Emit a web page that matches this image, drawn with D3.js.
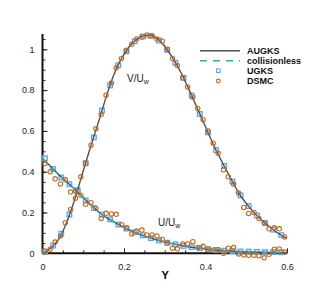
<!DOCTYPE html>
<html>
<head>
<meta charset="utf-8">
<script src="https://d3js.org/d3.v7.min.js"></script>
<style>
  body { margin: 0; background: #fff; }
  text { font-family: "Liberation Sans", Arial, sans-serif; }
</style>
</head>
<body>
<script>
// AUGKS solution, sampled every 0.02 in Y
var lineY = [0, 0.02, 0.04, 0.06, 0.08, 0.10, 0.12, 0.14, 0.16, 0.18, 0.20, 0.22, 0.24, 0.26, 0.28, 0.30,
             0.32, 0.34, 0.36, 0.38, 0.40, 0.42, 0.44, 0.46, 0.48, 0.50, 0.52, 0.54, 0.56, 0.58, 0.60];
var augksV = [0, 0.025, 0.07, 0.155, 0.27, 0.405, 0.535, 0.66, 0.79, 0.90, 0.975, 1.03, 1.06, 1.07, 1.055, 1.015,
              0.955, 0.885, 0.80, 0.71, 0.62, 0.53, 0.45, 0.375, 0.30, 0.245, 0.197, 0.158, 0.125, 0.096, 0.072];
var augksU = [0.465, 0.425, 0.385, 0.35, 0.312, 0.273, 0.234, 0.199, 0.171, 0.148, 0.127, 0.108, 0.092, 0.078, 0.066, 0.055,
              0.046, 0.038, 0.031, 0.026, 0.021, 0.017, 0.014, 0.011, 0.009, 0.007, 0.006, 0.005, 0.004, 0.003, 0.003];
// collisionless U (lies almost on top of AUGKS U)
var freeU = [0.462, 0.423, 0.384, 0.348, 0.311, 0.272, 0.234, 0.2, 0.172, 0.149, 0.128, 0.109, 0.093, 0.079, 0.067, 0.056,
             0.047, 0.039, 0.032, 0.027, 0.022, 0.018, 0.015, 0.012, 0.01, 0.008, 0.007, 0.006, 0.005, 0.004, 0.004];

// UGKS
var ugksY = [0.006, 0.026, 0.046, 0.066, 0.086, 0.106, 0.126, 0.146, 0.166, 0.186, 0.206, 0.226, 0.246, 0.266, 0.286,
             0.306, 0.326, 0.346, 0.366, 0.386, 0.406, 0.426, 0.446, 0.466, 0.486, 0.506, 0.526, 0.546, 0.566, 0.586];
var ugksV = [0.008, 0.038, 0.096, 0.19, 0.31, 0.442, 0.568, 0.70, 0.823, 0.922, 0.99, 1.039, 1.063, 1.066, 1.043,
             0.997, 0.934, 0.86, 0.773, 0.683, 0.593, 0.506, 0.428, 0.352, 0.284, 0.231, 0.185, 0.148, 0.116, 0.089];
var ugksU = [0.466, 0.413, 0.372, 0.339, 0.302, 0.259, 0.222, 0.19, 0.166, 0.141, 0.121, 0.103, 0.088, 0.074, 0.063,
             0.052, 0.044, 0.036, 0.03, 0.025, 0.02, 0.016, 0.013, 0.011, 0.009, 0.008, 0.007, 0.006, 0.006, 0.005];

// DSMC
var dsmcY = [0.006, 0.019, 0.031, 0.044, 0.056, 0.069, 0.081, 0.094, 0.106, 0.119, 0.131, 0.144, 0.156, 0.169, 0.181, 0.194,
             0.206, 0.219, 0.231, 0.244, 0.256, 0.269, 0.281, 0.294, 0.306, 0.319, 0.331, 0.344, 0.356, 0.369, 0.381, 0.394,
             0.406, 0.419, 0.431, 0.444, 0.456, 0.469, 0.481, 0.494, 0.506, 0.519, 0.531, 0.544, 0.556, 0.569, 0.581, 0.594];
var dsmcV = [0.01, 0.02, 0.055, 0.085, 0.15, 0.215, 0.27, 0.375, 0.44, 0.53, 0.61, 0.68, 0.775, 0.835, 0.91, 0.955,
             0.995, 1.025, 1.05, 1.06, 1.07, 1.065, 1.05, 1.04, 1.0, 0.955, 0.92, 0.86, 0.815, 0.765, 0.71, 0.655,
             0.60, 0.54, 0.49, 0.41, 0.375, 0.34, 0.295, 0.225, 0.195, 0.2, 0.17, 0.15, 0.12, 0.125, 0.12, 0.08];
var dsmcU = [0.44, 0.40, 0.365, 0.34, 0.36, 0.30, 0.305, 0.285, 0.24, 0.248, 0.22, 0.171, 0.196, 0.193, 0.191, 0.14,
             0.125, 0.095, 0.109, 0.114, 0.09, 0.09, 0.085, 0.068, 0.05, 0.025, 0.022, 0.046, 0.046, 0.057, 0.028, 0.034,
             0.021, 0.016, 0.018, 0.0, 0.025, 0.028, -0.003, -0.008, -0.01, -0.01, -0.012, -0.022, -0.005, 0.02, 0.021, 0.006];

var xTicks = [0, 0.2, 0.4, 0.6];
var yTicks = [0, 0.2, 0.4, 0.6, 0.8, 1];
var legendNames = ["AUGKS", "collisionless", "UGKS", "DSMC"];

var width = 327, height = 291;
var cGray = "#505050", cTeal = "#1fb5b5", cBlue = "#55a8f0", cOrange = "#c46a1c";

var svg = d3.select("body").append("svg")
  .attr("width", width)
  .attr("height", height);

var x = d3.scaleLinear().domain([0, 0.6]).range([42.5, 287]);
var y = d3.scaleLinear().domain([0, 1]).range([253.3, 49.3]);
var yTop = 1.075;

// axes, ticks point inward
var xMinor = d3.range(0, 0.6001, 0.05);
var yMinor = d3.range(0, yTop, 0.05);

var gx = svg.append("g").attr("transform", "translate(0," + y(0) + ")");
gx.call(d3.axisBottom(x).tickValues(xMinor).tickSize(-3).tickFormat(""))
gx.select(".domain").remove();
gx.append("g").call(d3.axisBottom(x).tickValues(xTicks).tickSize(-5).tickPadding(10).tickFormat(d3.format("")))
  .call(function(g) { g.select(".domain").remove(); });

var gy = svg.append("g").attr("transform", "translate(" + x(0) + ",0)");
gy.call(d3.axisLeft(y).tickValues(yMinor).tickSize(-3).tickFormat(""));
gy.select(".domain").remove();
gy.append("g").call(d3.axisLeft(y).tickValues(yTicks).tickSize(-5).tickPadding(8).tickFormat(d3.format("")))
  .call(function(g) { g.select(".domain").remove(); });

svg.selectAll(".tick line").attr("stroke", "#222").attr("stroke-width", 1);
svg.selectAll(".tick text").attr("font-size", 9).attr("fill", "#222")
  .attr("font-family", "'Liberation Sans', Arial, sans-serif");

svg.append("line").attr("x1", x(0)).attr("x2", x(0.6)).attr("y1", y(0)).attr("y2", y(0))
  .attr("stroke", "#111").attr("stroke-width", 2);
svg.append("line").attr("x1", x(0)).attr("x2", x(0)).attr("y1", y(0)).attr("y2", y(yTop))
  .attr("stroke", "#111").attr("stroke-width", 2);

svg.append("text").attr("x", (x(0) + x(0.6)) / 2 + 0.5).attr("y", 279)
  .attr("text-anchor", "middle").attr("font-size", 11).attr("font-weight", "bold").text("Y");

// UGKS squares
function squares(vals) {
  svg.append("g").selectAll("rect").data(ugksY).enter().append("rect")
    .attr("x", function(d) { return x(d) - 2.3; })
    .attr("y", function(d, i) { return y(vals[i]) - 2.3; })
    .attr("width", 4.6).attr("height", 4.6)
    .attr("fill", "#cfe6fb").attr("fill-opacity", 0.6)
    .attr("stroke", cBlue).attr("stroke-width", 1.3);
}
squares(ugksV);
squares(ugksU);

// lines
var line = function(vals) {
  return d3.line().curve(d3.curveMonotoneX)
    .x(function(d) { return x(d); })
    .y(function(d, i) { return y(vals[i]); })(lineY);
};
svg.append("path").attr("d", line(augksV)).attr("fill", "none").attr("stroke", cGray).attr("stroke-width", 1.4);
svg.append("path").attr("d", line(augksU)).attr("fill", "none").attr("stroke", cGray).attr("stroke-width", 1.4);
svg.append("path").attr("d", line(freeU)).attr("fill", "none").attr("stroke", cTeal).attr("stroke-width", 1.4)
  .attr("stroke-dasharray", "7,6");

// DSMC circles
function circles(vals) {
  svg.append("g").selectAll("circle").data(dsmcY).enter().append("circle")
    .attr("cx", function(d) { return x(d); })
    .attr("cy", function(d, i) { return y(vals[i]); })
    .attr("r", 2.2)
    .attr("fill", "none")
    .attr("stroke", cOrange).attr("stroke-width", 1.1);
}
circles(dsmcV);
circles(dsmcU);

// curve labels
var lv = svg.append("text").attr("x", 127).attr("y", 82).attr("font-size", 10).attr("fill", "#222");
lv.append("tspan").text("V/U");
lv.append("tspan").attr("font-size", 7).attr("dy", 2).text("w");
var lu = svg.append("text").attr("x", 158).attr("y", 226).attr("font-size", 10).attr("fill", "#222");
lu.append("tspan").text("U/U");
lu.append("tspan").attr("font-size", 7).attr("dy", 2).text("w");

// legend
var lg = svg.append("g");
var ly = [50.7, 60.7, 70.7, 81];
lg.append("line").attr("x1", 200).attr("x2", 240).attr("y1", ly[0]).attr("y2", ly[0])
  .attr("stroke", cGray).attr("stroke-width", 1.4);
lg.append("line").attr("x1", 200).attr("x2", 240).attr("y1", ly[1]).attr("y2", ly[1])
  .attr("stroke", cTeal).attr("stroke-width", 1.4).attr("stroke-dasharray", "7,6");
lg.append("rect").attr("x", 216.5).attr("y", ly[2] - 1.8).attr("width", 3.6).attr("height", 3.6)
  .attr("fill", "none").attr("stroke", cBlue).attr("stroke-width", 1.1);
lg.append("circle").attr("cx", 218.3).attr("cy", ly[3]).attr("r", 1.9)
  .attr("fill", "none").attr("stroke", cOrange).attr("stroke-width", 1.1);
lg.selectAll("text").data(legendNames).enter().append("text")
  .attr("x", 247).attr("y", function(d, i) { return ly[i] + 3.3; })
  .attr("font-size", 9).attr("font-weight", "bold").attr("fill", "#111")
  .text(function(d) { return d; });
</script>
</body>
</html>
